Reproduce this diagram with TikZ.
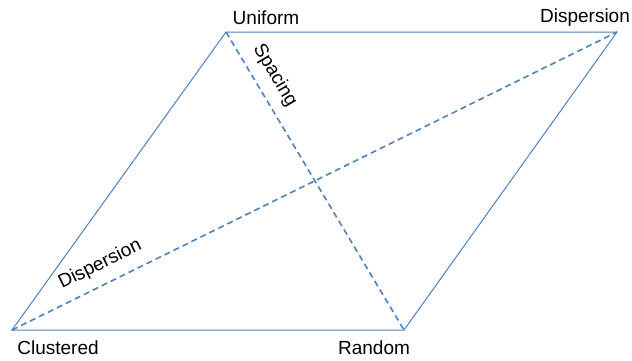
\documentclass[tikz,border=0pt]{standalone}
\usepackage{fontspec}
\setmainfont{Liberation Sans}
\usepackage{xcolor}
\usepackage{tikz}
\usetikzlibrary{positioning}
\definecolor{EdgeBlue}{HTML}{4F81BD}

\begin{document}
\begin{tikzpicture}[x=0.5pt,y=-0.5pt, every node/.style={font=\fontsize{9.5}{11}\selectfont,text=black,inner sep=1pt}, side/.style={EdgeBlue,line width=0.5pt}, diag/.style={EdgeBlue,line width=0.8pt,dash pattern=on 3pt off 2pt}]
\useasboundingbox (0,0) rectangle (632,360);
\coordinate (clu) at (12,330);
\coordinate (ran) at (404,330);
\coordinate (dis) at (617,32);
\coordinate (uni) at (226,32);
\node (lclu) at (58,348) {Clustered};
\node (lran) at (374,348) {Random};
\node (ldis) at (585,18) {Dispersion};
\node (luni) at (266,18) {Uniform};
\draw[side] (clu)--(ran)--(dis)--(uni)--cycle;
\draw[diag] (uni)--(ran) node[pos=0.18,sloped,above=4pt] (lspa) {Spacing};
\draw[diag] (clu)--(dis) node[pos=0.16,sloped,above=4pt] (ldsp) {Dispersion};
\end{tikzpicture}
\end{document}
